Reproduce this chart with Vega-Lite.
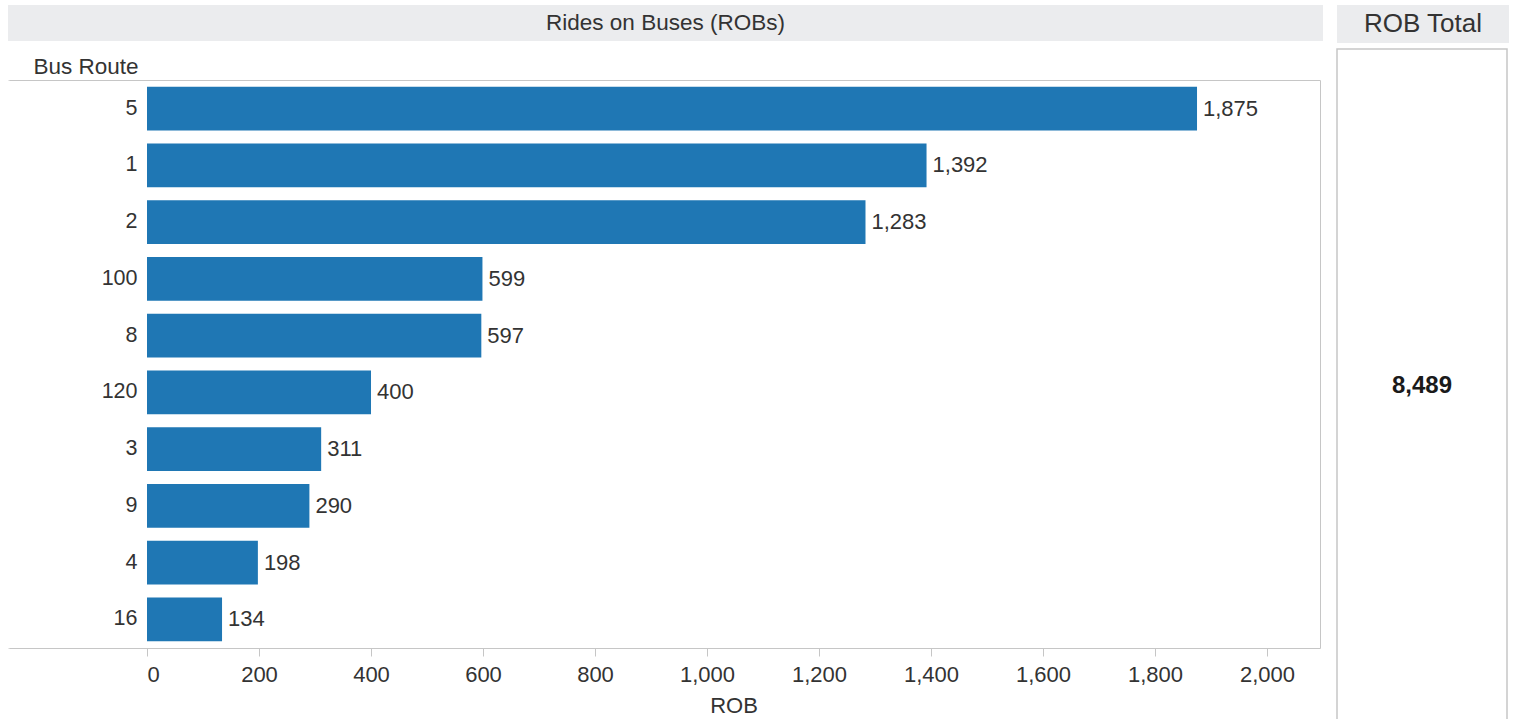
{
  "$schema": "https://vega.github.io/schema/vega-lite/v6.json",
  "padding": {"left": 7, "top": 5, "right": 0, "bottom": 0},
  "background": "white",
  "config": {
    "font": "Liberation Sans",
    "concat": {"spacing": 13}
  },
  "datasets": {
    "routes": [
      {"route": "5", "ROB": 1875},
      {"route": "1", "ROB": 1392},
      {"route": "2", "ROB": 1283},
      {"route": "100", "ROB": 599},
      {"route": "8", "ROB": 597},
      {"route": "120", "ROB": 400},
      {"route": "3", "ROB": 311},
      {"route": "9", "ROB": 290},
      {"route": "4", "ROB": 198},
      {"route": "16", "ROB": 134}
    ],
    "total": [{"label": "ROB Total", "total": 8489}],
    "header": [{"label": "Rides on Buses (ROBs)"}]
  },
  "hconcat": [
    {
      "spacing": 13,
      "vconcat": [
        {
          "width": 1315,
          "height": 36,
          "view": {"fill": "#ebecee", "stroke": null},
          "data": {"name": "header"},
          "mark": {"type": "text", "fontSize": 22.5, "color": "#333333", "baseline": "middle", "align": "center"},
          "encoding": {"text": {"field": "label", "type": "nominal"}}
        },
        {
          "width": 1312,
          "height": 568,
          "view": {"stroke": "#c6c6c6", "strokeWidth": 1},
          "data": {"name": "routes"},
          "encoding": {
            "y": {
              "field": "route",
              "type": "nominal",
              "sort": {"field": "ROB", "order": "descending"},
              "scale": {"paddingInner": 0.23, "paddingOuter": 0.12},
              "axis": {
                "title": "Bus Route",
                "titleAngle": 0,
                "titleAlign": "left",
                "titleBaseline": "alphabetic",
                "titleX": 25,
                "titleY": -7,
                "titleFontSize": 22.5,
                "titleFontWeight": "normal",
                "titleColor": "#333333",
                "labelFontSize": 21.5,
                "labelColor": "#333333",
                "labelAlign": "right",
                "labelPadding": -129,
                "ticks": false,
                "tickSize": 0,
                "domain": true,
                "domainColor": "white",
                "domainWidth": 2
              }
            },
            "x": {
              "field": "ROB",
              "type": "quantitative",
              "scale": {"domain": [0, 2094.6], "range": [139, 1312], "nice": false, "zero": true},
              "axis": {
                "title": "ROB",
                "values": [0, 200, 400, 600, 800, 1000, 1200, 1400, 1600, 1800, 2000],
                "format": ",.0f",
                "grid": false,
                "domain": false,
                "tickColor": "#c6c6c6",
                "tickSize": 8,
                "labelFontSize": 22,
                "labelColor": "#333333",
                "labelPadding": 8,
                "titleFontSize": 22,
                "titleFontWeight": "normal",
                "titleColor": "#333333",
                "titlePadding": 10
              }
            }
          },
          "layer": [
            {
              "mark": {"type": "rule", "color": "#c6c6c6", "strokeWidth": 1},
              "encoding": {"x": {"datum": 0}}
            },
            {"mark": {"type": "bar", "color": "#1f77b4"}},
            {
              "mark": {"type": "text", "align": "left", "baseline": "middle", "dx": 6, "fontSize": 22, "color": "#333333"},
              "encoding": {"text": {"field": "ROB", "type": "quantitative", "format": ","}}
            }
          ]
        }
      ]
    },
    {
      "spacing": 5,
      "vconcat": [
        {
          "width": 172,
          "height": 38,
          "view": {"fill": "#ebecee", "stroke": null},
          "data": {"name": "total"},
          "mark": {"type": "text", "fontSize": 26, "color": "#333333", "baseline": "middle", "align": "center"},
          "encoding": {"text": {"field": "label", "type": "nominal"}}
        },
        {
          "width": 170,
          "height": 674,
          "view": {"stroke": "#c6c6c6", "strokeWidth": 1.5, "fill": "white"},
          "data": {"name": "total"},
          "mark": {"type": "text", "fontSize": 24, "fontWeight": "bold", "color": "#1a1a1a", "baseline": "middle", "align": "center"},
          "encoding": {"text": {"field": "total", "type": "quantitative", "format": ","}}
        }
      ]
    }
  ]
}
